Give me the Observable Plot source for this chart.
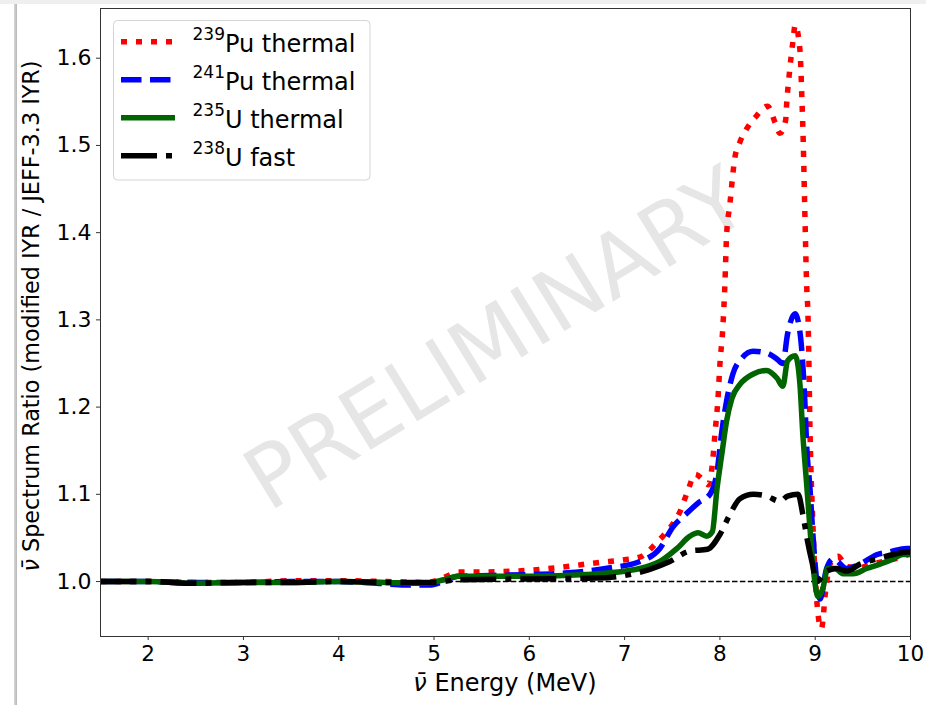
<!DOCTYPE html>
<html><head><meta charset="utf-8">
<script src="https://cdn.jsdelivr.net/npm/d3@7"></script>
<script src="https://cdn.jsdelivr.net/npm/@observablehq/plot@0.6"></script>
<style>
body{margin:0;background:#fff;}
#wrap{position:relative;width:926px;height:705px;overflow:hidden;background:#fff;}
#topstrip{position:absolute;left:0;top:0;width:926px;height:4px;background:#efefef;}
#leftbar{position:absolute;left:14px;top:4px;width:3px;height:701px;background:linear-gradient(to right,#d8d8d8,#b8b8b8);}
#chart{position:absolute;left:0;top:0;}
</style></head><body><div id="wrap"><div id="chart"></div><div id="topstrip"></div><div id="leftbar"></div></div>
<script>
// ---- data ----
const xTicks = [2, 3, 4, 5, 6, 7, 8, 9, 10];
const yTicks = [1.0, 1.1, 1.2, 1.3, 1.4, 1.5, 1.6];

const isotopes = ["239", "241", "235", "238"];
const elements = ["Pu", "Pu", "U", "U"];
const modes = ["thermal", "thermal", "thermal", "fast"];

const energyPu239 = [1.5,2.0,2.5,3.0,3.5,4.0,4.5,4.9,5.05,5.15,5.25,5.5,6.0,6.3,6.74,7.0,7.16,7.34,7.44,7.58,7.66,7.74,7.82,7.88,7.92,7.95,7.98,8.0,8.03,8.053,8.07,8.105,8.12,8.157,8.21,8.28,8.385,8.5,8.58,8.63,8.69,8.70,8.73,8.767,8.79,8.84,8.86,8.875,8.89,8.91,8.925,8.935,8.945,8.955,8.972,8.988,9.008,9.03,9.065,9.11,9.155,9.24,9.33,9.45,9.6,9.75,9.9,10.0];
const ratioPu239 = [1.0,1.0,0.999,0.999,1.001,1.001,1.0,0.999,1.002,1.007,1.011,1.011,1.013,1.016,1.022,1.025,1.028,1.045,1.057,1.08,1.103,1.123,1.117,1.111,1.134,1.172,1.21,1.249,1.29,1.343,1.397,1.433,1.45,1.486,1.504,1.519,1.534,1.545,1.526,1.514,1.529,1.547,1.584,1.62,1.638,1.609,1.555,1.502,1.429,1.341,1.302,1.245,1.176,1.13,1.077,1.031,0.992,0.962,0.946,0.99,1.02,1.029,1.017,1.016,1.02,1.024,1.028,1.032];

const energyPu241 = [1.5,2.0,2.5,3.0,3.5,4.0,4.4,4.7,4.95,5.1,5.25,5.6,6.0,6.4,6.8,7.16,7.37,7.51,7.65,7.77,7.895,7.97,8.02,8.07,8.136,8.23,8.35,8.49,8.6,8.66,8.71,8.79,8.82,8.86,8.89,8.91,8.945,8.976,9.02,9.05,9.12,9.19,9.33,9.47,9.65,9.78,9.96,10.0];
const ratioPu241 = [1.0,1.0,0.999,0.999,1.0,1.0,0.998,0.996,0.996,1.0,1.006,1.007,1.008,1.01,1.015,1.023,1.038,1.063,1.078,1.09,1.1,1.126,1.172,1.207,1.238,1.256,1.264,1.262,1.255,1.25,1.284,1.307,1.299,1.264,1.21,1.157,1.107,1.054,0.997,0.98,1.015,1.026,1.015,1.02,1.031,1.034,1.038,1.038];

const energyU235 = [1.5,2.0,2.5,3.0,3.5,4.0,4.5,4.9,5.1,5.25,6.0,6.6,7.16,7.37,7.55,7.685,7.77,7.86,7.92,7.97,8.02,8.07,8.126,8.21,8.35,8.49,8.6,8.66,8.71,8.79,8.84,8.87,8.91,8.945,8.976,9.03,9.08,9.13,9.21,9.29,9.4,9.54,9.68,9.82,9.92,10.0];
const ratioU235 = [1.0,1.0,0.998,0.999,0.999,1.0,0.999,0.998,1.002,1.006,1.006,1.008,1.015,1.023,1.038,1.052,1.056,1.052,1.057,1.107,1.146,1.184,1.21,1.226,1.238,1.242,1.233,1.224,1.253,1.259,1.226,1.169,1.112,1.061,1.02,0.983,0.992,1.015,1.015,1.009,1.009,1.015,1.02,1.026,1.031,1.031];

const energyU238 = [1.5,2.0,2.5,3.0,3.5,4.0,4.5,5.0,5.25,6.0,6.7,7.0,7.265,7.475,7.685,7.87,8.0,8.105,8.21,8.35,8.49,8.63,8.71,8.82,8.87,8.92,8.965,9.02,9.05,9.12,9.23,9.33,9.47,9.65,9.82,9.96,10.0];
const ratioU238 = [1.0,1.0,0.998,0.999,0.999,1.0,0.999,0.999,1.002,1.003,1.004,1.007,1.014,1.023,1.035,1.037,1.054,1.077,1.095,1.1,1.098,1.092,1.098,1.1,1.077,1.046,1.023,1.0,1.003,1.012,1.015,1.012,1.02,1.026,1.031,1.034,1.034];

// ---- styles ----
const styles = [
  {stroke: "#ff0000", strokeWidth: 5.5, strokeDasharray: "6 9"},
  {stroke: "#0000ff", strokeWidth: 5.5, strokeDasharray: "20.5 8.5"},
  {stroke: "#006400", strokeWidth: 5.5, strokeDasharray: null},
  {stroke: "#000000", strokeWidth: 5.5, strokeDasharray: "36 9 6 9"}
];
const energies = [energyPu239, energyPu241, energyU235, energyU238];
const ratios = [ratioPu239, ratioPu241, ratioU235, ratioU238];

const seriesRows = energies.map((E, k) => E.map((e, i) => ({E: e, v: ratios[k][i]})));

const lineMarks = seriesRows.map((rows, k) => Plot.line(rows, {
  x: "E", y: "v", curve: "monotone-x",
  stroke: styles[k].stroke, strokeWidth: styles[k].strokeWidth,
  strokeDasharray: styles[k].strokeDasharray, strokeLinecap: "butt", strokeLinejoin: "round",
  clip: true
}));

const W = 926, H = 705;
const plot = Plot.plot({
  width: W, height: H,
  marginLeft: 100, marginRight: 16, marginTop: 8, marginBottom: 69,
  x: {domain: [1.5, 10]},
  y: {domain: [0.937, 1.657]},
  style: {fontFamily: "'DejaVu Sans', sans-serif", background: "white", color: "black", overflow: "visible"},
  marks: [
    Plot.text(["PRELIMINARY"], {text: d => d, frameAnchor: "middle", rotate: -31.5, fontSize: 86, fill: "#e6e6e6", dx: -9, dy: 18}),
    Plot.ruleY([1.0], {stroke: "black", strokeWidth: 1.5, strokeDasharray: "5.5 2.4"}),
    ...lineMarks,
    Plot.frame({stroke: "#333", strokeWidth: 1}),
    Plot.axisX(xTicks, {tickSize: 4, tickPadding: 5, fontSize: 21.5, label: null, stroke: "#333"}),
    Plot.axisY(yTicks, {tickSize: 4, tickPadding: 5, fontSize: 22, label: null, tickFormat: d => d.toFixed(1), stroke: "#333"})
  ]
});
document.getElementById("chart").appendChild(plot);

const svg = d3.select(plot);
// axis labels
const xl = svg.append("text").attr("x", 505).attr("y", 683).attr("text-anchor", "middle")
  .attr("dominant-baseline", "central").attr("font-size", 24).attr("fill", "black");
xl.append("tspan").attr("font-style", "italic").text("\u03BD\u0304");
xl.append("tspan").text(" Energy (MeV)");

const yl = svg.append("text").attr("transform", "translate(31,316) rotate(-90)").attr("text-anchor", "middle")
  .attr("dominant-baseline", "central").attr("font-size", 22.3).attr("fill", "black");
yl.append("tspan").attr("font-style", "italic").text("\u03BD\u0304");
yl.append("tspan").text(" Spectrum Ratio (modified IYR / JEFF-3.3 IYR)");

// legend
const lg = svg.append("g").attr("text-anchor", "start");
lg.append("rect").attr("x", 113.5).attr("y", 20.5).attr("width", 256.5).attr("height", 159.5)
  .attr("rx", 4).attr("fill", "white").attr("fill-opacity", 0.85).attr("stroke", "#d4d4d4").attr("stroke-width", 1);
const baselines = [51.7, 89.7, 127.7, 165.7];
isotopes.forEach((iso, k) => {
  const by = baselines[k];
  lg.append("line").attr("x1", 121).attr("x2", 175).attr("y1", by - 10).attr("y2", by - 10)
    .attr("stroke", styles[k].stroke).attr("stroke-width", styles[k].strokeWidth)
    .attr("stroke-dasharray", styles[k].strokeDasharray).attr("stroke-linecap", "butt");
  const t = lg.append("text").attr("x", 192.5).attr("y", by).attr("font-size", 24)
    .attr("fill", "black").attr("text-anchor", "start");
  t.append("tspan").attr("font-size", 17).attr("dy", -12).text(iso);
  t.append("tspan").attr("dy", 12).text(elements[k] + " " + modes[k]);
});
</script></body></html>
